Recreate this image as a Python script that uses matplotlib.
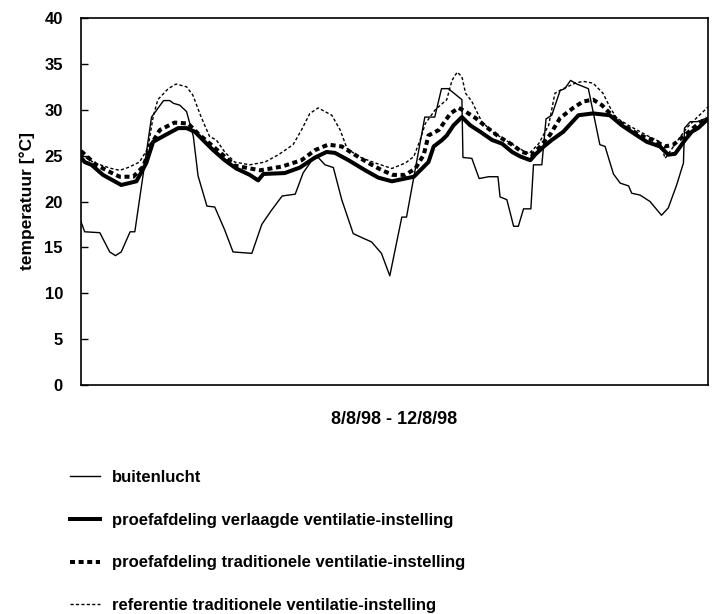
import matplotlib
matplotlib.use("Agg")
import matplotlib.pyplot as plt

plt.rcParams['font.family'] = ['Liberation Sans', 'DejaVu Sans']
plt.rcParams['font.weight'] = 'bold'
plt.rcParams['lines.scale_dashes'] = False

buiten_uur = [0, 0.7, 3.6, 5.5, 6.6, 7.7, 9.4, 10.3, 13.5, 15.8, 17.0, 17.7, 18.9, 20.2,
              21.5, 22.4, 24.1, 25.6, 27.5, 29.1, 32.7, 34.6, 36.4, 38.5, 41.0, 42.5,
              44.2, 45.4, 46.7, 48.3, 49.9, 52.1, 54.0, 55.6, 57.5, 59.1, 61.4, 62.3,
              65.8, 67.7, 69.0, 70.3, 72.9, 73.1, 74.8, 76.2, 78.0, 79.8, 80.2, 81.5,
              82.8, 83.7, 84.7, 86.1, 86.6, 88.2, 89.0, 90.1, 91.7, 92.6, 93.7, 94.9,
              97.1, 99.3, 100.3, 101.9, 103.2, 104.8, 105.4, 107.0, 108.9, 111.1, 112.4,
              114.0, 115.3, 115.5, 116.6, 117.9, 119.8]
buiten_temp = [17.8, 16.7, 16.6, 14.5, 14.1, 14.5, 16.7, 16.7, 29.2, 31.0, 31.0, 30.7, 30.5, 29.8,
               27.1, 22.8, 19.5, 19.4, 16.9, 14.5, 14.35, 17.5, 19.0, 20.6, 20.8, 23.1,
               24.5, 24.8, 24.0, 23.7, 20.2, 16.5, 16.0, 15.6, 14.35, 11.9, 18.3, 18.3,
               29.2, 29.2, 32.3, 32.3, 31.1, 24.8, 24.7, 22.5, 22.7, 22.7, 20.5, 20.2,
               17.3, 17.3, 19.2, 19.2, 24.0, 24.0, 29.0, 29.4, 32.1, 32.3, 33.2, 32.8,
               32.3, 26.2, 26.0, 23.0, 22.0, 21.7, 20.9, 20.7, 20.0, 18.5, 19.3,
               21.8, 24.2, 28.0, 28.7, 28.7, 29.1]

verlaagd_uur = [0, 0.7, 2.0, 4.2, 7.7, 10.6, 12.5, 13.8, 16.0, 18.6, 20.2, 21.8, 23.7, 25.3,
                27.5, 29.7, 32.3, 33.9, 34.9, 39.0, 41.9, 44.8, 47.0, 48.6, 51.2, 54.4,
                56.9, 59.5, 63.7, 66.5, 67.5, 69.1, 70.0, 71.3, 72.9, 74.5, 76.4, 78.7,
                80.6, 82.5, 84.1, 86.0, 86.9, 88.6, 90.1, 92.3, 95.2, 98.0, 101.2, 103.5,
                106.4, 108.3, 110.8, 112.4, 113.7, 115.6, 116.9, 118.1, 119.8]
verlaagd_temp = [24.8, 24.3, 24.0, 22.9, 21.8, 22.2, 24.2, 26.5, 27.2, 28.0, 28.0, 27.6, 26.5, 25.6,
                 24.5, 23.6, 22.9, 22.3, 23.0, 23.1, 23.7, 24.8, 25.4, 25.3, 24.5, 23.4,
                 22.6, 22.2, 22.7, 24.3, 26.0, 26.7, 27.2, 28.3, 29.2, 28.3, 27.6, 26.7,
                 26.3, 25.4, 24.9, 24.5, 25.1, 26.0, 26.7, 27.6, 29.4, 29.6, 29.4, 28.3,
                 27.2, 26.5, 26.0, 25.1, 25.2, 26.7, 27.6, 28.0, 28.9]

proef_trad_uur = [0, 0.4, 2.9, 5.2, 7.4, 10.0, 11.9, 13.5, 15.1, 17.9, 20.5, 22.4, 24.9, 27.5,
                  29.5, 34.3, 38.4, 42.2, 44.8, 47.3, 49.9, 52.4, 55.0, 57.6, 59.7, 62.1,
                  64.0, 65.6, 66.5, 68.5, 70.7, 72.3, 73.6, 75.5, 77.4, 79.9, 82.5, 84.4,
                  86.3, 87.9, 89.8, 91.7, 94.2, 96.1, 98.0, 99.7, 101.6, 104.1, 107.0,
                  109.5, 111.8, 113.4, 115.3, 117.8, 119.8]
proef_trad_temp = [25.5, 25.3, 24.0, 23.3, 22.7, 22.7, 23.8, 26.3, 27.8, 28.6, 28.5, 27.4, 26.2, 24.9,
                   23.9, 23.4, 23.8, 24.5, 25.6, 26.2, 26.0, 25.1, 24.2, 23.4, 22.9, 22.9,
                   23.6, 25.1, 27.2, 27.8, 29.6, 30.2, 29.8, 29.1, 28.2, 27.1, 26.2, 25.4,
                   25.1, 26.0, 27.3, 29.1, 30.2, 30.9, 31.1, 30.5, 29.4, 28.2, 27.2,
                   26.7, 26.0, 26.2, 27.1, 28.3, 29.1]

referentie_uur = [0, 2.6, 5.8, 7.4, 9.0, 11.2, 12.8, 13.8, 14.7, 16.7, 18.2, 20.2, 21.4, 23.0,
                  24.6, 25.9, 27.5, 29.4, 32.3, 35.2, 37.8, 40.6, 42.2, 43.8, 45.4, 48.0,
                  49.6, 50.9, 53.1, 56.3, 59.5, 62.1, 63.7, 64.9, 65.9, 67.8, 70.0, 71.0,
                  72.0, 72.9, 73.6, 74.8, 76.7, 78.7, 81.2, 83.8, 85.7, 87.6, 89.5, 90.7,
                  92.3, 94.6, 96.1, 98.0, 99.9, 101.2, 102.5, 105.1, 108.3, 110.8, 111.8,
                  113.4, 115.9, 117.8, 120.0]
referentie_temp = [25.1, 24.2, 23.6, 23.4, 23.7, 24.3, 25.8, 29.2, 31.1, 32.3, 32.8, 32.5, 31.6, 29.2,
                   27.1, 26.7, 25.4, 24.3, 24.0, 24.3, 25.1, 26.2, 27.8, 29.6, 30.2, 29.4,
                   27.8, 25.8, 24.9, 24.2, 23.6, 24.2, 24.9, 26.7, 28.5, 30.0, 31.1, 33.2,
                   34.1, 33.6, 31.8, 30.9, 28.7, 27.6, 26.7, 25.8, 25.2, 26.3, 28.3, 31.8,
                   32.3, 32.9, 33.1, 32.9, 31.8, 30.3, 29.1, 28.2, 27.2, 26.5, 24.7,
                   26.0, 28.0, 29.1, 30.3]

labels = ["buitenlucht",
          "proefafdeling verlaagde ventilatie-instelling",
          "proefafdeling traditionele ventilatie-instelling",
          "referentie traditionele ventilatie-instelling"]

fig = plt.figure(figsize=(7.13, 6.14), dpi=100)
ax = fig.add_axes([81 / 713, 229 / 614, 627 / 713, 367 / 614])

ax.plot(buiten_uur, buiten_temp, color="black", lw=1.0, label=labels[0])
ax.plot(verlaagd_uur, verlaagd_temp, color="black", lw=2.9, label=labels[1])
ax.plot(proef_trad_uur, proef_trad_temp, color="black", lw=2.9,
        dashes=(3.6, 2.6), label=labels[2])
ax.plot(referentie_uur, referentie_temp, color="black", lw=1.0,
        dashes=(2.3, 1.6), label=labels[3])

ax.set_xlim(0, 120)
ax.set_ylim(0, 40)
ax.set_yticks(range(0, 41, 5))
ax.set_xticks([])
ax.tick_params(axis='y', direction='in', length=5, width=1, pad=13, labelsize=12)
for s in ax.spines.values():
    s.set_linewidth(1.2)

ax.text(-0.085, 0.5, "temperatuur [°C]", transform=ax.transAxes, rotation=90,
        ha='center', va='center', fontsize=12.5, fontweight='bold')
ax.set_xlabel("8/8/98 - 12/8/98", fontsize=13, fontweight='bold', labelpad=19)

fig.legend(loc='upper left', bbox_to_anchor=(70 / 713, 1 - 470 / 614),
           frameon=False, fontsize=12, borderpad=0, borderaxespad=0,
           handlelength=1.8, handletextpad=0.72, labelspacing=1.66)

fig.savefig("out.png", dpi=100)
